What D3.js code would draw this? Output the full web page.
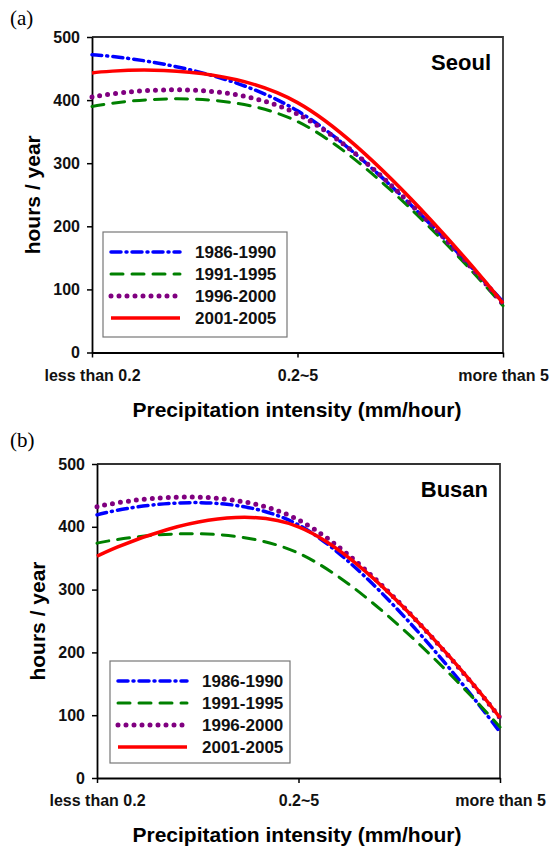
<!DOCTYPE html>
<html>
<head>
<meta charset="utf-8">
<script src="https://cdn.jsdelivr.net/npm/d3@7"></script>
<style>
  body { margin: 0; background: #fff; }
  text { font-family: "Liberation Sans", Arial, sans-serif; }
</style>
</head>
<body>
<div id="chart"></div>
<script>
var categories = ["less than 0.2", "0.2~5", "more than 5"];
var periods = ["1986-1990", "1991-1995", "1996-2000", "2001-2005"];
var yTicks = [0, 100, 200, 300, 400, 500];

// hours / year, Seoul
var seoul8690 = [472, 383, 80];
var seoul9195 = [390, 366, 74];
var seoul9600 = [405, 378, 77];
var seoul0105 = [443, 396, 78];

// hours / year, Busan
var busan8690 = [419, 403, 73];
var busan9195 = [374, 358, 81];
var busan9600 = [432, 411, 96];
var busan0105 = [353, 400, 96];

var lineStyles = [
    { color: "#0000FF", width: 3.5, dash: "10,5,1,5", cap: "round" },
    { color: "#008000", width: 3, dash: "12,9", cap: "round" },
    { color: "#800080", width: 5, dash: "0,8", cap: "round" },
    { color: "#FF0000", width: 3.5, dash: null, cap: "butt" }
];

var svg = d3.select("#chart")
    .append("svg")
    .attr("width", 559)
    .attr("height", 847);

function drawPanel(cfg) {
    var x = d3.scalePoint()
        .domain(categories)
        .range([cfg.left, cfg.right]);
    var y = d3.scaleLinear()
        .domain([0, 500])
        .range([cfg.bottom, cfg.top]);

    // panel letter
    svg.append("text")
        .attr("x", 10)
        .attr("y", cfg.letterY)
        .style("font-family", "'Liberation Serif', 'Times New Roman', serif")
        .style("font-size", "21px")
        .text(cfg.letter);

    // top / right frame
    svg.append("path")
        .attr("d", "M" + cfg.left + "," + cfg.top + "H" + cfg.right + "V" + cfg.bottom)
        .attr("fill", "none")
        .attr("stroke", "#333")
        .attr("stroke-width", 1.8);

    var yAxis = svg.append("g")
        .attr("transform", "translate(" + cfg.left + ",0)")
        .call(d3.axisLeft(y).tickValues(yTicks).tickSize(5).tickSizeOuter(0).tickPadding(7));
    yAxis.select(".domain").attr("stroke-width", 1.8);
    yAxis.selectAll(".tick line").attr("stroke-width", 1.5);
    yAxis.selectAll("text")
        .style("font-size", "16px")
        .style("font-weight", "bold")
        .attr("fill", "#111");

    var xAxis = svg.append("g")
        .attr("transform", "translate(0," + cfg.bottom + ")")
        .call(d3.axisBottom(x).tickSize(5).tickSizeOuter(0));
    xAxis.select(".domain").attr("stroke-width", 1.8);
    xAxis.selectAll(".tick line").attr("stroke-width", 1.5);
    xAxis.selectAll("text")
        .attr("y", 28)
        .attr("dy", 0)
        .style("font-size", "16px")
        .style("font-weight", "bold")
        .attr("fill", "#111");

    // axis titles
    svg.append("text")
        .attr("transform", "translate(" + cfg.yTitleX + "," + ((cfg.top + cfg.bottom) / 2) + ") rotate(-90)")
        .attr("text-anchor", "middle")
        .style("font-size", "21px")
        .style("font-weight", "bold")
        .text("hours / year");

    svg.append("text")
        .attr("x", 297)
        .attr("y", cfg.bottom + 64)
        .attr("text-anchor", "middle")
        .style("font-size", "21px")
        .style("font-weight", "bold")
        .text("Precipitation intensity (mm/hour)");

    // city name
    svg.append("text")
        .attr("x", cfg.right - 12)
        .attr("y", cfg.top + 33)
        .attr("text-anchor", "end")
        .style("font-size", "22px")
        .style("font-weight", "bold")
        .text(cfg.city);

    // legend
    var lg = cfg.legend;
    svg.append("rect")
        .attr("x", lg.x)
        .attr("y", lg.y)
        .attr("width", lg.w)
        .attr("height", lg.h)
        .attr("fill", "#fff")
        .attr("stroke", "#777")
        .attr("stroke-width", 1.2);

    var line = d3.line()
        .x(function (d, i) { return x(categories[i]); })
        .y(function (d) { return y(d); })
        .curve(d3.curveCardinal.tension(-0.2));

    cfg.series.forEach(function (values, i) {
        var s = lineStyles[i];
        svg.append("path")
            .datum(values)
            .attr("fill", "none")
            .attr("stroke", s.color)
            .attr("stroke-width", s.width)
            .attr("stroke-linecap", s.cap)
            .attr("stroke-dasharray", s.dash)
            .attr("d", line);

        var rowY = lg.y + 20 + i * 22;
        svg.append("line")
            .attr("x1", lg.x + 8)
            .attr("x2", lg.x + 77)
            .attr("y1", rowY)
            .attr("y2", rowY)
            .attr("stroke", s.color)
            .attr("stroke-width", s.width)
            .attr("stroke-linecap", s.cap)
            .attr("stroke-dasharray", s.dash);

        svg.append("text")
            .attr("x", lg.x + 92)
            .attr("y", rowY + 6)
            .style("font-size", "17px")
            .style("font-weight", "bold")
            .attr("fill", "#111")
            .text(periods[i]);
    });
}

drawPanel({
    letter: "(a)", letterY: 25, city: "Seoul",
    left: 92, right: 503, top: 37, bottom: 352.5, yTitleX: 40,
    legend: { x: 103, y: 232, w: 184, h: 105 },
    series: [seoul8690, seoul9195, seoul9600, seoul0105]
});

drawPanel({
    letter: "(b)", letterY: 447, city: "Busan",
    left: 97, right: 500, top: 464, bottom: 778, yTitleX: 45,
    legend: { x: 110, y: 661, w: 180, h: 102 },
    series: [busan8690, busan9195, busan9600, busan0105]
});
</script>
</body>
</html>
